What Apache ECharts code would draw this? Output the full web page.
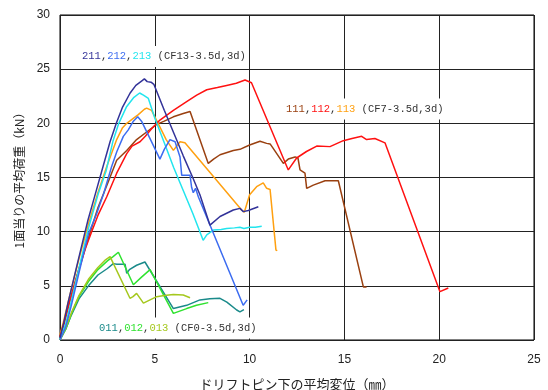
<!DOCTYPE html>
<html><head><meta charset="utf-8">
<script src="https://cdn.jsdelivr.net/npm/echarts@6/dist/echarts.min.js"></script>
<style>html,body{margin:0;padding:0;background:#fff}#c{width:548px;height:390px}</style>
</head><body><div id="c"></div>
<script>
// x: displacement (mm), y: load (kN)
const xTicks = [0, 5, 10, 15, 20, 25];
const yTicks = [0, 5, 10, 15, 20, 25, 30];
const xName = 'ドリフトピン下の平均変位（㎜）';
const yName = '1面当りの平均荷重（kN）';

const s211 = [[0,0.2],[0.2,1.6],[0.42,3.4],[0.8,6.2],[1.2,9.1],[1.48,11.1],[1.85,13.4],[2.3,16.2],[2.64,18.3],[2.97,20],[3.3,21.5],[3.7,22.8],[4.0,23.5],[4.3,23.9],[4.45,24.1],[4.6,23.85],[4.8,23.8],[4.95,23.6],[5.5,21.2],[6.0,19.1],[6.5,17.0],[7.0,15.0],[7.38,13.4],[7.91,10.6],[8.44,11.4],[9.14,12.0],[9.49,12.15],[9.67,11.85],[9.93,11.95],[10.46,12.3]];
const s212 = [[0,0],[0.3,1.2],[0.6,3.2],[1.0,6.2],[1.5,9.8],[1.9,11.5],[2.3,13.5],[2.72,16.0],[3.0,17.4],[3.34,18.8],[3.6,19.4],[3.87,20.2],[4.1,20.6],[4.3,20.2],[4.8,18.4],[5.27,16.7],[5.5,17.6],[5.8,18.5],[6.07,18.3],[6.33,16.9],[6.42,15.2],[6.86,15.2],[6.94,14.1],[7.03,13.6],[7.15,14.0],[7.3,13.2],[9.66,3.2],[9.87,3.7]];
const s213 = [[0,0.1],[0.3,1.5],[0.6,3.6],[1.0,6.6],[1.5,10.3],[2.0,13.4],[2.43,15.6],[2.8,18.4],[3.1,20],[3.5,21.5],[3.9,22.4],[4.2,22.8],[4.4,22.6],[4.66,22.3],[5.0,20.5],[5.5,18.2],[6.0,15.9],[6.5,13.8],[7.0,11.7],[7.55,9.2],[7.74,9.7],[8.09,10.15],[8.5,10.2],[8.79,10.3],[9.2,10.35],[9.49,10.4],[9.7,10.3],[10.0,10.4],[10.3,10.4],[10.64,10.5]];

const s111 = [[0,0.3],[0.2,1.4],[0.5,3.5],[1.0,6.6],[1.6,10.0],[2.0,12.2],[2.5,14.4],[2.99,16.6],[3.52,17.5],[4.04,18.5],[4.57,19.2],[5.1,19.9],[5.5,20.2],[5.98,20.6],[6.5,20.9],[6.86,21.1],[7.82,16.3],[8.1,16.7],[8.44,17.1],[9.14,17.5],[9.49,17.6],[10.0,18.0],[10.55,18.35],[10.9,18.15],[11.08,18.1],[11.2,17.8],[11.78,16.3],[12.04,16.7],[12.4,16.9],[12.55,16.8],[12.66,15.7],[12.92,15.4],[13.01,14.0],[13.36,14.3],[13.98,14.7],[14.68,14.7],[16.0,4.9],[16.17,4.9]];
const s112 = [[0,0.3],[0.2,1.5],[0.5,3.5],[1.0,6.5],[1.35,8.5],[1.67,10.0],[2.0,11.5],[2.46,13.2],[2.99,15.4],[3.52,17.2],[3.8,17.9],[4.22,18.3],[4.5,18.8],[4.83,19.5],[5.27,20.3],[5.98,21.2],[6.68,22.0],[7.21,22.6],[7.74,23.1],[8.3,23.3],[8.79,23.5],[9.3,23.7],[9.76,24.0],[10.1,23.75],[12.04,15.7],[12.48,16.8],[13.0,17.4],[13.54,17.9],[14.24,17.85],[14.94,18.4],[15.4,18.6],[15.91,18.8],[16.17,18.5],[16.61,18.6],[17.14,18.2],[20.04,4.46],[20.48,4.8]];
const s113 = [[0,0.5],[0.2,1.8],[0.5,4.0],[1.0,7.5],[1.5,10.7],[2.0,13.6],[2.46,16.0],[2.99,18.5],[3.3,19.6],[3.52,20.0],[3.9,20.5],[4.13,20.8],[4.45,21.3],[4.57,21.4],[4.83,21.2],[5.2,19.9],[5.6,18.5],[5.98,17.5],[6.33,18.3],[6.59,18.2],[9.58,12.0],[9.72,11.8],[10.0,13.4],[10.37,14.15],[10.72,14.5],[10.9,14.0],[11.08,13.9],[11.39,8.3],[11.46,8.25]];

const s011 = [[0,0],[0.3,1.0],[0.6,2.3],[1.0,3.8],[1.5,5.0],[2.0,6.0],[2.5,6.6],[2.81,7.05],[3.0,7.0],[3.43,7.0],[3.52,6.15],[3.66,6.5],[4.04,6.9],[4.48,7.2],[5.98,2.9],[6.68,3.2],[7.38,3.7],[7.9,3.8],[8.44,3.85],[8.8,3.5],[9.32,2.77],[9.49,2.6],[9.7,2.8]];
const s012 = [[0,0],[0.3,1.0],[0.6,2.4],[1.0,4.0],[1.5,5.4],[2.0,6.5],[2.5,7.3],[2.8,7.7],[3.08,8.1],[3.87,5.1],[4.3,5.8],[4.75,6.5],[5.98,2.46],[6.68,2.9],[7.2,3.2],[7.82,3.45]];
const s013 = [[0,0],[0.3,1.1],[0.6,2.5],[1.0,4.1],[1.5,5.6],[2.0,6.7],[2.4,7.4],[2.64,7.7],[3.69,3.85],[3.85,4.0],[4.04,4.3],[4.4,3.4],[5.1,4.0],[5.5,4.1],[5.98,4.2],[6.5,4.15],[6.86,3.9]];

const seriesDefs = [
  ['011', s011, '#1a8a8a'], ['012', s012, '#2fe22f'], ['013', s013, '#a5c81e'],
  ['111', s111, '#9a4010'], ['113', s113, '#ffa010'], ['112', s112, '#ff1111'],
  ['213', s213, '#22e5ee'], ['212', s212, '#3c6cf0'], ['211', s211, '#333399']
];

const chart = echarts.init(document.getElementById('c'));
const mono = 'Liberation Mono';
function lbl(x, y, nums, cols, rest) {
  const rich = {g: {fill: '#333', fontFamily: mono, fontSize: 10.5}};
  let txt = '';
  nums.forEach((n, i) => {
    rich['n' + i] = {fill: cols[i], fontFamily: mono, fontSize: 10.5};
    txt += '{n' + i + '|' + n + '}' + (i < nums.length - 1 ? '{g|,}' : '');
  });
  txt += '{g| ' + rest + '}';
  return {type: 'text', x: x, y: y, z: 100,
    style: {text: txt, rich: rich, fill: '#333', fontFamily: mono, fontSize: 10.5,
      verticalAlign: 'middle', backgroundColor: '#fff', padding: [5, 3, 5, 3]}};
}
chart.setOption({
  animation: false,
  grid: {left: 60, right: 14, top: 15, bottom: 50, show: true, borderColor: '#000', borderWidth: 1,
    outerBoundsMode: 'none', containLabel: false},
  xAxis: {type: 'value', min: 0, max: 25, interval: 5,
    name: xName, nameLocation: 'middle', nameGap: 38,
    nameTextStyle: {fontFamily: 'Noto Sans CJK JP', fontSize: 13, color: '#222'},
    axisLine: {show: false}, axisTick: {show: false},
    axisLabel: {margin: 14, fontFamily: 'Liberation Sans', fontSize: 12, color: '#222'},
    splitLine: {show: true, lineStyle: {color: '#222', width: 1}}},
  yAxis: {type: 'value', min: 0, max: 30, interval: 5,
    name: yName, nameLocation: 'middle', nameGap: 34, nameRotate: 90,
    nameTextStyle: {fontFamily: 'Noto Sans CJK JP', fontSize: 12, color: '#222'},
    axisLine: {show: false}, axisTick: {show: false},
    axisLabel: {margin: 10, fontFamily: 'Liberation Sans', fontSize: 12, color: '#222'},
    splitLine: {show: true, lineStyle: {color: '#222', width: 1}}},
  graphic: [
    lbl(79, 56.5, ['211', '212', '213'], ['#333399', '#3c6cf0', '#22e5ee'], '(CF13-3.5d,3d)'),
    lbl(283, 109, ['111', '112', '113'], ['#9a4010', '#ff1111', '#ffa010'], '(CF7-3.5d,3d)'),
    lbl(96, 328, ['011', '012', '013'], ['#1a8a8a', '#2fe22f', '#a5c81e'], '(CF0-3.5d,3d)')
  ],
  series: seriesDefs.map(d => ({name: d[0], type: 'line', data: d[1], showSymbol: false,
    lineStyle: {color: d[2], width: 1.5}, itemStyle: {color: d[2]}}))
});
</script></body></html>
